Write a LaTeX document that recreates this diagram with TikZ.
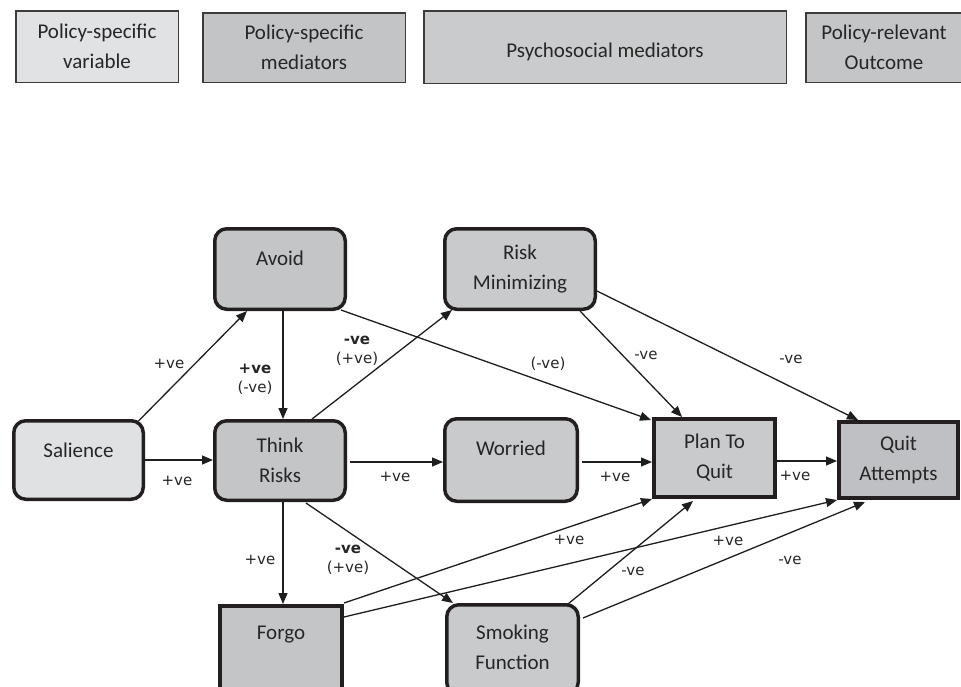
\documentclass[tikz,border=0pt]{standalone}
\usepackage{fontspec}
\setmainfont{Carlito}
\newfontfamily\labfont{DejaVu Sans}
\usetikzlibrary{arrows.meta,calc}
\definecolor{legline}{HTML}{3C3C3C}
\definecolor{nodeline}{HTML}{231F20}
\definecolor{txtc}{HTML}{262626}
\definecolor{arrc}{HTML}{1E1E1E}
\definecolor{fl1}{HTML}{E1E2E4}
\definecolor{fl2}{HTML}{C3C4C6}
\definecolor{fl3}{HTML}{CACBCD}
\definecolor{fl4}{HTML}{C4C5C7}
\definecolor{fsal}{HTML}{E0E1E3}
\definecolor{fdark}{HTML}{C4C5C7}
\definecolor{fmid}{HTML}{C9CACC}
\definecolor{fquit}{HTML}{BFC0C3}
\begin{document}
\begin{tikzpicture}[x=1pt,y=-1pt,
  legbox/.style={draw=legline, line width=1.5pt, inner sep=0pt, font=\fontsize{21}{30}\selectfont, align=center, text=txtc},
  rbox/.style={draw=nodeline, line width=3.5pt, rounded corners=12pt, inner sep=0pt, font=\fontsize{21}{30}\selectfont, align=center, text=txtc},
  sbox/.style={draw=nodeline, line width=4pt, inner sep=0pt, font=\fontsize{21}{30}\selectfont, align=center, text=txtc},
  ntxt/.style={inner sep=0pt, font=\fontsize{21}{30}\selectfont, text=txtc},
  lab/.style={inner sep=0pt, font=\labfont\fontsize{15}{19}\selectfont, align=center, text=txtc},
  arr/.style={draw=arrc, line width=1.3pt, -{Triangle[length=11pt,width=9pt]}},
]
\useasboundingbox (0,0) rectangle (961,686);
\clip (0,0) rectangle (961,686);

% legend
\node[legbox, fill=fl1, minimum width=162.5pt, minimum height=71.5pt] (leg1) at (97,46.5) {Policy-specific\\variable};
\node[legbox, fill=fl2, minimum width=202.5pt, minimum height=69.5pt] (leg2) at (304,47.5) {Policy-specific\\mediators};
\node[legbox, fill=fl3, minimum width=362.5pt, minimum height=72.5pt] (leg3) at (605,47) {};
\node[ntxt] (leg3t) at (605,52) {Psychosocial mediators};
\node[legbox, fill=fl4, minimum width=168.5pt, minimum height=69.5pt] (leg4) at (890,47.5) {};
\node[ntxt, align=center, font=\fontsize{21}{30}\selectfont] (leg4t) at (884,47.5) {Policy-relevant\\Outcome};

% nodes
\node[rbox, fill=fsal, minimum width=129.5pt, minimum height=78.5pt] (sal) at (78.5,460) {};
\node[ntxt] (salt) at (78.5,450) {Salience};
\node[rbox, fill=fdark, minimum width=130.5pt, minimum height=80.5pt] (avoid) at (280,269) {};
\node[ntxt] (avoidt) at (280,258) {Avoid};
\node[rbox, fill=fdark, minimum width=130.5pt, minimum height=79.5pt] (think) at (280,460.5) {Think\\Risks};
\node[rbox, fill=fmid, minimum width=150.5pt, minimum height=80.5pt] (riskmin) at (520,269) {Risk\\Minimizing};
\node[rbox, fill=fmid, minimum width=132.5pt, minimum height=82.5pt] (worried) at (511,460) {};
\node[ntxt] (worriedt) at (511,448) {Worried};
\node[sbox, fill=fmid, minimum width=121pt, minimum height=78pt] (plan) at (714.5,458) {Plan To\\Quit};
\node[sbox, fill=fquit, minimum width=119pt, minimum height=76pt] (quit) at (898.5,460) {Quit\\Attempts};
\node[sbox, fill=fdark, minimum width=122pt, minimum height=88pt] (forgo) at (281,650) {};
\node[ntxt] (forgot) at (281,635) {Forgo};
\node[rbox, fill=fmid, minimum width=131.5pt, minimum height=89.5pt] (smoke) at (512.5,649.5) {};
\node[ntxt, align=center] (smoket) at (512.5,647) {Smoking\\Function};

% connectors
\draw[arr] ($(sal.north)+(60,2)$) -- ($(avoid.south)+(-33,0)$);
\draw[arr] (sal.east) -- (sal.east -| think.west);
\draw[arr] ($(avoid.south)+(3,0)$) -- ($(think.north)+(3,0)$);
\draw[arr] ($(think.north)+(32,0)$) -- ($(riskmin.south)+(-68,-1)$);
\draw[arr] ($(avoid.south)+(61,-1)$) -- ($(plan.north west)+(-1,3)$);
\draw[arr] ($(riskmin.south)+(60,0)$) -- ($(plan.north)+(-32.5,0)$);
\draw[arr] ($(riskmin.east)+(0,22)$) -- ($(quit.north west)+(21,0)$);
\draw[arr] ($(think.east)+(3,1.5)$) -- ($(worried.west)+(0,2)$);
\draw[arr] ($(worried.east)+(3,2)$) -- ($(plan.west)+(0,4)$);
\draw[arr] ($(plan.east)+(0,3)$) -- ($(quit.west)+(0,1)$);
\draw[arr] ($(think.south)+(3,0)$) -- ($(forgo.north)+(2,0)$);
\draw[arr] ($(think.south)+(26,1)$) -- ($(smoke.north)+(-59.5,0)$);
\draw[arr] ($(forgo.north east)+(0,-1)$) -- (plan.south west);
\draw[arr] ($(forgo.north east)+(0,13)$) -- (quit.south west);
\draw[arr] ($(smoke.north)+(55.5,1)$) -- ($(plan.south)+(-21.5,2)$);
\draw[arr] ($(smoke.east)+(3,-31.5)$) -- ($(quit.south)+(-33.5,2)$);

% labels
\node[lab] (l1) at (169,364) {+ve};
\node[lab] (l2) at (177,481) {+ve};
\node[lab] (l3) at (255,379) {\textbf{+ve}\\(-ve)};
\node[lab] (l4) at (357,351) {\textbf{-ve}\\(+ve)};
\node[lab] (l5) at (548,364) {(-ve)};
\node[lab] (l6) at (646,355) {-ve};
\node[lab] (l7) at (791,359) {-ve};
\node[lab] (l8) at (395,477) {+ve};
\node[lab] (l9) at (615,477) {+ve};
\node[lab] (l10) at (795,476) {+ve};
\node[lab] (l11) at (260,560) {+ve};
\node[lab] (l12) at (348,560) {\textbf{-ve}\\(+ve)};
\node[lab] (l13) at (569,540) {+ve};
\node[lab] (l14) at (728,541) {+ve};
\node[lab] (l15) at (633,571) {-ve};
\node[lab] (l16) at (790,560) {-ve};
\end{tikzpicture}
\end{document}
